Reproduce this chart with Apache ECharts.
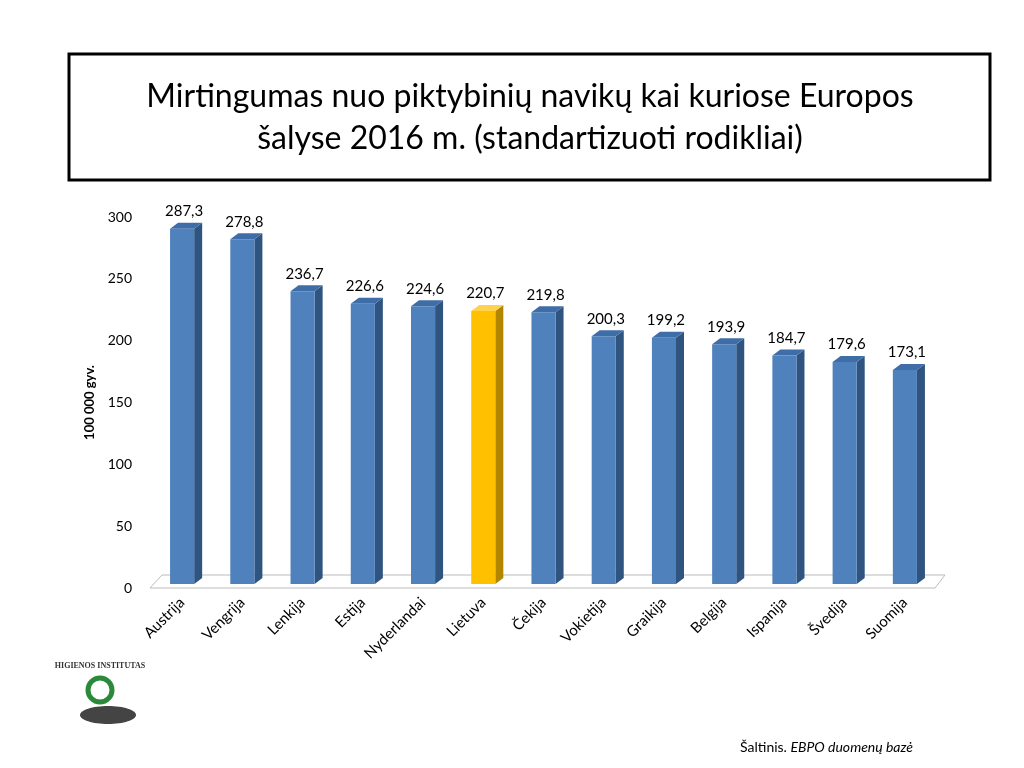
<!DOCTYPE html>
<html><head><meta charset="utf-8">
<script src="https://cdn.jsdelivr.net/npm/echarts@6/dist/echarts.min.js"></script>
<style>html,body{margin:0;padding:0;background:#fff}#c{width:1024px;height:768px}</style>
</head><body><div id="c"></div>
<script>
const categories=["Austrija","Vengrija","Lenkija","Estija","Nyderlandai","Lietuva","Čekija","Vokietija","Graikija","Belgija","Ispanija","Švedija","Suomija"];
const values=[287.3,278.8,236.7,226.6,224.6,220.7,219.8,200.3,199.2,193.9,184.7,179.6,173.1];
const highlight="Lietuva";
const chart=echarts.init(document.getElementById('c'));
const F='Lato, "Open Sans", sans-serif';
function renderItem(params,api){
  const i=api.value(0), v=api.value(1);
  const top=api.coord([i,v]), base=api.coord([i,0]);
  top[1]-=4; base[1]-=4;
  const w=api.size([1,0])[0]*0.4, d=8, h=6;
  const x0=top[0]-w/2, x1=x0+w;
  const hi=categories[i]===highlight;
  const front=hi?'#FFC000':'#4F81BD', side=hi?'#B38600':'#2F5480', topc=hi?'#FFD24D':'#3F6DA8';
  return {type:'group',children:[
    {type:'polygon',shape:{points:[[x1,top[1]],[x1+d,top[1]-h],[x1+d,base[1]-h],[x1,base[1]]]},style:{fill:side}},
    {type:'polygon',shape:{points:[[x0,top[1]],[x0+d,top[1]-h],[x1+d,top[1]-h],[x1,top[1]]]},style:{fill:topc}},
    {type:'rect',shape:{x:x0,y:top[1],width:w,height:base[1]-top[1]},style:{fill:front}},
    {type:'text',style:{text:v.toFixed(1).replace('.',','),x:(x0+x1)/2+2,y:top[1]-10,align:'center',verticalAlign:'bottom',fill:'#000',font:'15px '+F}}
  ]};
}
chart.setOption({
  animation:false,
  graphic:[
    {type:'rect',shape:{x:69,y:54,width:921,height:126},style:{fill:'#fff',stroke:'#000',lineWidth:3}},
    {type:'text',x:530,y:76,style:{text:'Mirtingumas nuo piktybinių navikų kai kuriose Europos\nšalyse 2016 m. (standartizuoti rodikliai)',align:'center',font:'32px '+F,lineHeight:42,fill:'#000'}},
    {type:'polyline',shape:{points:[[150,588],[162,575],[945,575],[935,588],[150,588]]},style:{fill:'none',stroke:'#bbb',lineWidth:1}},
    {type:'text',left:740,top:740,style:{rich:{a:{font:'14px '+F},b:{font:'italic 14px '+F}},text:'{a|Šaltinis. }{b|EBPO duomenų bazė}',fill:'#000'}},
    {type:'text',x:100,y:662,style:{text:'HIGIENOS INSTITUTAS',align:'center',font:'bold 8px serif',fill:'#333'}},
    {type:'ellipse',shape:{cx:108,cy:715,rx:28,ry:9},style:{fill:'#444'}},
    {type:'circle',shape:{cx:100,cy:690,r:12},style:{fill:'none',stroke:'#2a8a3a',lineWidth:5}}
  ],
  grid:{left:152,right:89,top:217,bottom:180},
  xAxis:{type:'category',data:categories,axisLine:{show:false},axisTick:{show:false},
    axisLabel:{rotate:45,interval:0,fontFamily:F,fontSize:15,color:'#000',margin:12}},
  yAxis:{type:'value',min:0,max:300,interval:50,
    name:'100 000 gyv.',nameLocation:'middle',nameGap:45,nameRotate:90,
    nameTextStyle:{fontFamily:F,fontSize:13,fontWeight:'bold',color:'#000'},
    axisLabel:{fontFamily:F,fontSize:14,color:'#000',margin:20},splitLine:{show:false},axisLine:{show:false},axisTick:{show:false}},
  series:[{type:'custom',renderItem,data:values.map((v,i)=>[i,v]),encode:{x:0,y:1}}]
});
</script></body></html>
